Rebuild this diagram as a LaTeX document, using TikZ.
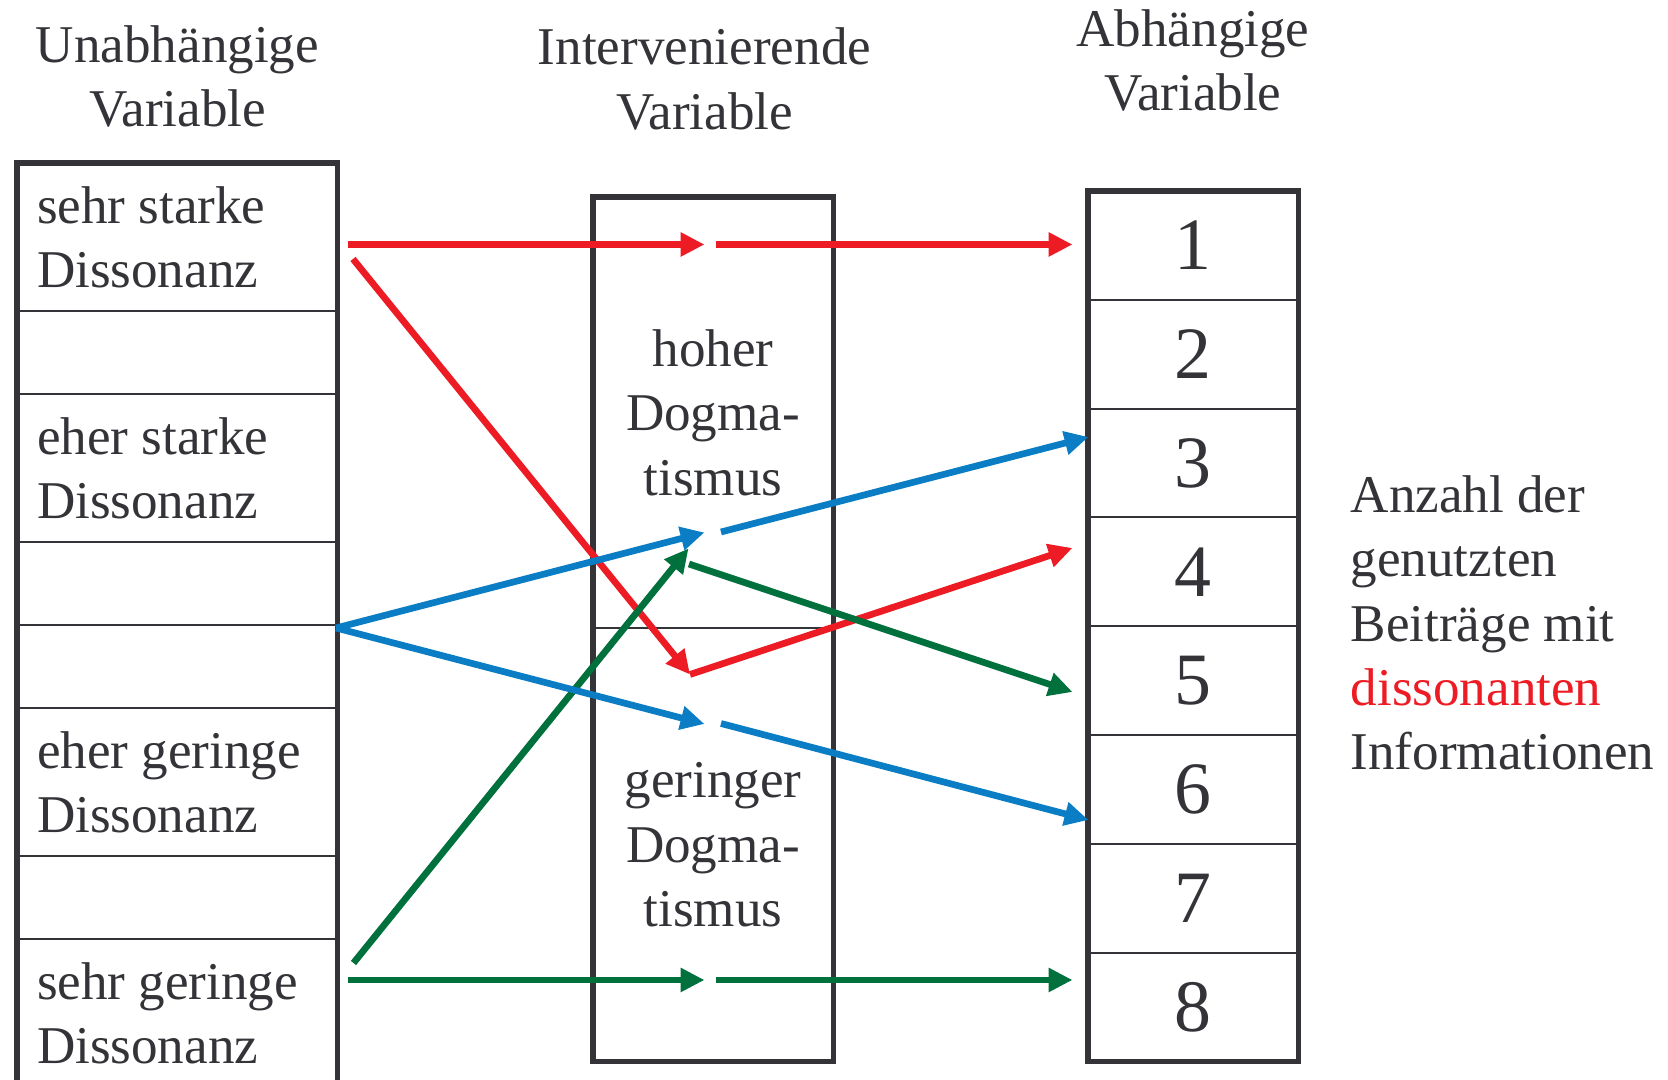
\documentclass[tikz,border=0pt]{standalone}
\usepackage{fontspec}
\setmainfont{Liberation Serif}
\usetikzlibrary{arrows.meta, positioning, calc}
\definecolor{vgrey}{HTML}{333338}
\definecolor{vred}{HTML}{ED1C24}
\definecolor{vblue}{HTML}{0A7DC4}
\definecolor{vgreen}{HTML}{00703C}
\tikzset{
  txt/.style={font=\fontsize{15.1}{18.3}\selectfont, text=vgrey, inner sep=0pt, align=center},
  cell/.style={rectangle, draw=vgrey, line width=0.6pt, outer sep=0pt, inner sep=0pt,
               text=vgrey, font=\fontsize{15.1}{18.3}\selectfont},
  lrow/.style={cell, minimum width=3.2cm, text width=2.8cm, inner xsep=0.2cm, align=flush left},
  tall/.style={minimum height=1.48cm},
  short/.style={minimum height=0.83cm},
  mrow/.style={cell, minimum width=2.4cm, align=center},
  num/.style={cell, minimum width=2.1cm, minimum height=1.0875cm, font=\fontsize{21}{25}\selectfont},
  frame/.style={draw=vgrey, line width=1.45pt},
  arr/.style={line width=1.9pt, -{Triangle[length=6.8pt, width=6.5pt]}}
}
\begin{document}
\begin{tikzpicture}[x=0.01cm, y=-0.01cm]
  \useasboundingbox (0,0) rectangle (1668,1080);
  % headings
  \node[txt] (hUV) at (177.5,76.7) {Unabhängige\\Variable};
  \node[txt] (hIV) at (704.5,79) {Intervenierende\\Variable};
  \node[txt] (hAV) at (1193,60.7) {Abhängige\\Variable};
  % independent variable
  \node[lrow, tall, anchor=north west] (u1) at (17,163) {sehr starke\\Dissonanz};
  \node[lrow, short, below=0pt of u1] (u2) {};
  \node[lrow, tall, below=0pt of u2] (u3) {eher starke\\Dissonanz};
  \node[lrow, short, below=0pt of u3] (u4) {};
  \node[lrow, short, below=0pt of u4] (u5) {};
  \node[lrow, tall, below=0pt of u5] (u6) {eher geringe\\Dissonanz};
  \node[lrow, short, below=0pt of u6] (u7) {};
  \node[lrow, tall, below=0pt of u7] (u8) {sehr geringe\\Dissonanz};
  \draw[frame] (u1.north west) rectangle (u8.south east);
  % intervening variable
  \node[mrow, minimum height=4.31cm, anchor=north west] (dhi) at (593,197) {hoher\\Dogma-\\tismus};
  \node[mrow, minimum height=4.33cm, below=0pt of dhi] (dlo) {geringer\\Dogma-\\tismus};
  \draw[frame] (dhi.north west) rectangle (dlo.south east);
  % dependent variable
  \node[num, anchor=north west] (n1) at (1088,191) {1};
  \foreach \i [remember=\i as \p (initially 1)] in {2,...,8}
    \node[num, below=0pt of n\p] (n\i) {\i};
  \draw[frame] (n1.north west) rectangle (n8.south east);
  \node[txt, align=left, anchor=north west] (note) at (1350,475)
    {Anzahl der\\genutzten\\Beiträge mit\\\textcolor{vred}{dissonanten}\\Informationen};
  % arrow ends
  \coordinate (sRed) at (348,244.5);
  \coordinate (sRedD) at (353,259);
  \coordinate (sBlue) at (336,628);
  \coordinate (sGreenD) at (353.5,963);
  \coordinate (sGreen) at (348,980);
  \coordinate (pTopIn) at (704.5,244.5);
  \coordinate (pTopOut) at (716,244.5);
  \coordinate (pHiIn) at (704.5,532.5);
  \coordinate (pHiOut) at (721,532);
  \coordinate (pHiG) at (688.5,548.5);
  \coordinate (pHiGOut) at (689,564);
  \coordinate (pLoR) at (690,674.5);
  \coordinate (pLoIn) at (704.5,724);
  \coordinate (pLoOut) at (721,723.5);
  \coordinate (pBotIn) at (704.5,980);
  \coordinate (pBotOut) at (716,980);
  \coordinate (e1) at (1072.5,244.5);
  \coordinate (e3) at (1088.5,437);
  \coordinate (e4) at (1072.5,548);
  \coordinate (e5) at (1072.5,692);
  \coordinate (e6) at (1088.5,820);
  \coordinate (e8) at (1072.5,980);
  % red
  \draw[arr, vred] (sRed) -- (pTopIn);
  \draw[arr, vred] (pTopOut) -- (e1);
  \draw[arr, vred] (sRedD) -- (pLoR);
  \draw[arr, vred] (pLoR) -- (e4);
  % green
  \draw[arr, vgreen] (sGreen) -- (pBotIn);
  \draw[arr, vgreen] (pBotOut) -- (e8);
  \draw[arr, vgreen] (sGreenD) -- (pHiG);
  \draw[arr, vgreen] (pHiGOut) -- (e5);
  % blue
  \draw[arr, vblue] (sBlue) -- (pHiIn);
  \draw[arr, vblue] (pHiOut) -- (e3);
  \draw[arr, vblue] (sBlue) -- (pLoIn);
  \draw[arr, vblue] (pLoOut) -- (e6);
\end{tikzpicture}
\end{document}
